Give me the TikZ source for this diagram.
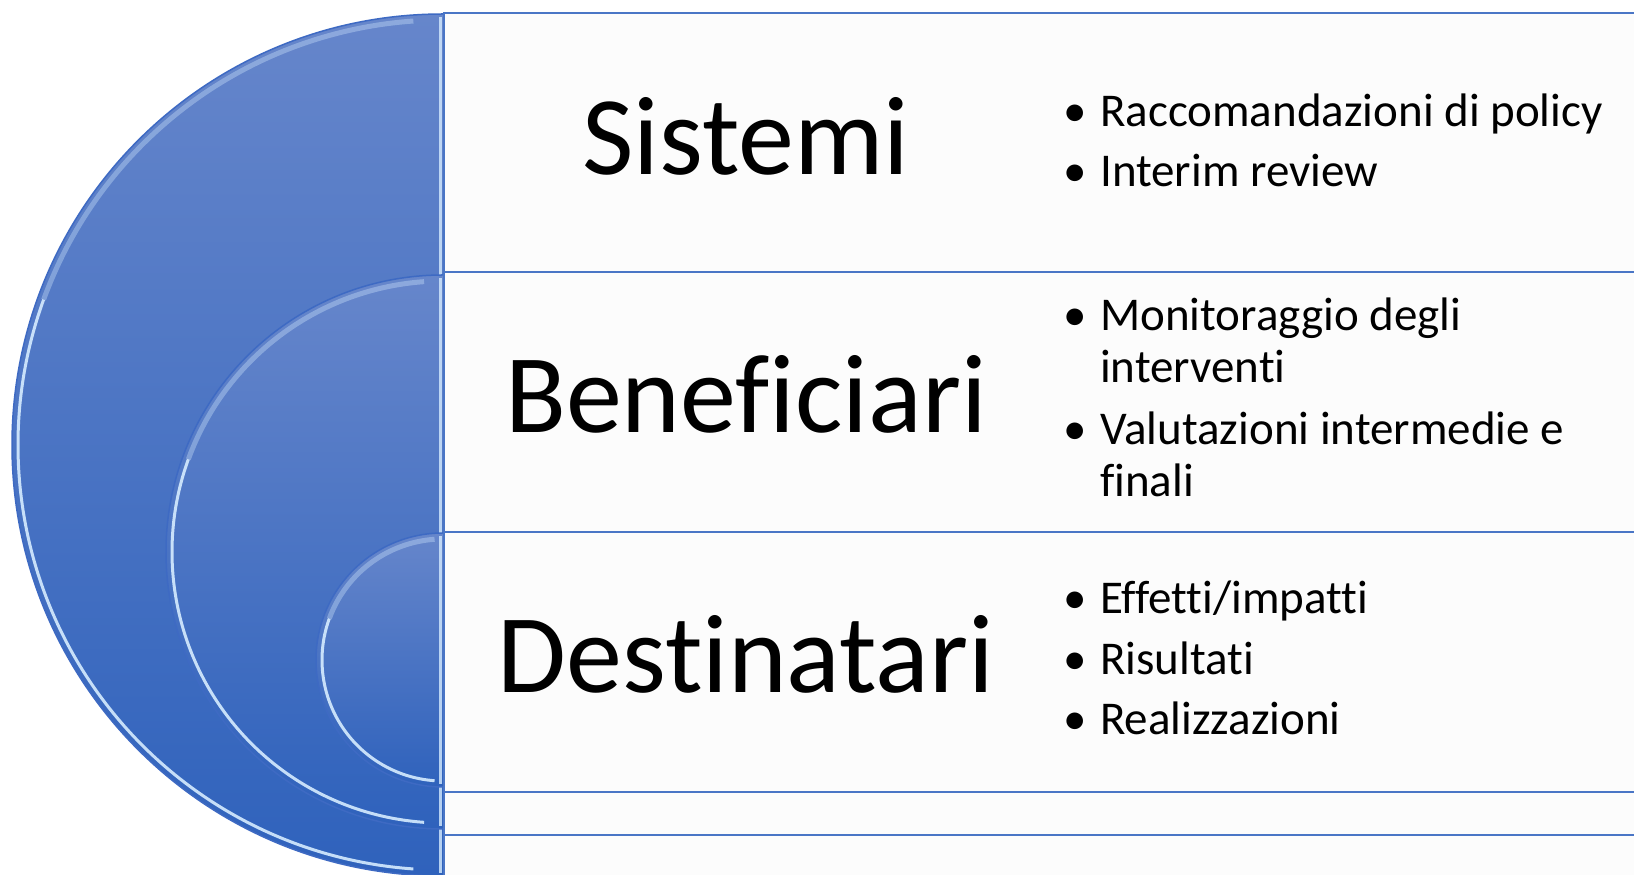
\documentclass[tikz,border=0pt]{standalone}
\usepackage{fontspec}
\setmainfont{Carlito}[Ligatures=NoCommon]
\definecolor{boxline}{HTML}{4A76C6}
\definecolor{boxfill}{HTML}{FCFCFC}
\definecolor{disktop}{HTML}{6686CB}
\definecolor{diskbot}{HTML}{2F62BC}
\definecolor{glint}{HTML}{D6ECFF}
\definecolor{rim}{HTML}{3E6AC3}
\tikzset{
  rowbox/.style={fill=boxfill, draw=boxline, line width=2pt},
  titletext/.style={anchor=base, inner sep=0pt, font=\fontsize{112}{134}\selectfont},
  itemtext/.style={anchor=base west, inner sep=0pt, font=\fontsize{47}{56}\selectfont},
  bulletdot/.style={anchor=base, inner sep=0pt, font=\fontsize{47}{56}\selectfont},
}
\begin{document}
\begin{tikzpicture}[x=1pt,y=1pt]
\useasboundingbox (0,0) rectangle (1634,875);
\clip (0,0) rectangle (1634,875);
\fill[white] (0,0) rectangle (1634,875);

% nested half-disks
\foreach \cy/\r in {430/431, 323/277, 215/127} {
  \pgfmathsetmacro{\ri}{\r-6}
  \pgfmathsetmacro{\top}{\cy+\r}
  \pgfmathsetmacro{\bot}{\cy-\r}
  \shade[top color=disktop, bottom color=diskbot]
    (443,\top) arc[start angle=90, end angle=270, radius=\r] -- cycle;
  % soft highlight on the upper part, bright glint on the lower part
  \draw[glint, line width=5pt, opacity=0.35]
    ([shift={(94:\ri)}]443,\cy) arc[start angle=94, end angle=160, radius=\ri];
  \draw[glint, line width=3pt, opacity=0.9]
    ([shift={(160:\ri)}]443,\cy) arc[start angle=160, end angle=266, radius=\ri];
  \draw[rim, line width=1.5pt]
    (443,\top) arc[start angle=90, end angle=270, radius=\r];
  \draw[glint, line width=2.5pt, opacity=0.8] (440.5,\top-3) -- (440.5,\bot+3);
}

% row boxes
\draw[rowbox] (444,862) rectangle (1700,603);
\draw[rowbox] (444,603) rectangle (1700,343);
\draw[rowbox] (444,343) rectangle (1700,83);
\draw[rowbox] (444,83) rectangle (1700,40);
\draw[rowbox] (444,40) rectangle (1700,-100);

% titles
\node[titletext] (sistemi) at (746,700) {Sistemi};
\node[titletext] (benef) at (746,442) {Beneficiari};
\node[titletext] (dest) at (746,182) {Destinatari};

% row 1 bullets
\node[bulletdot] (b11) at (1075,748) {•};
\node[itemtext] (t11) at (1100,748) {Raccomandazioni di policy};
\node[bulletdot] (b12) at (1075,688) {•};
\node[itemtext] (t12) at (1100,688) {Interim review};

% row 2 bullets
\node[bulletdot] (b21) at (1075,544) {•};
\node[itemtext] (t21) at (1100,544) {Monitoraggio degli};
\node[itemtext] (t21b) at (1100,492) {interventi};
\node[bulletdot] (b22) at (1075,430) {•};
\node[itemtext] (t22) at (1100,430) {Valutazioni intermedie e};
\node[itemtext] (t22b) at (1100,378) {finali};

% row 3 bullets
\node[bulletdot] (b31) at (1075,261) {•};
\node[itemtext] (t31) at (1100,261) {Effetti/impatti};
\node[bulletdot] (b32) at (1075,200) {•};
\node[itemtext] (t32) at (1100,200) {Risultati};
\node[bulletdot] (b33) at (1075,140) {•};
\node[itemtext] (t33) at (1100,140) {Realizzazioni};
\end{tikzpicture}
\end{document}
